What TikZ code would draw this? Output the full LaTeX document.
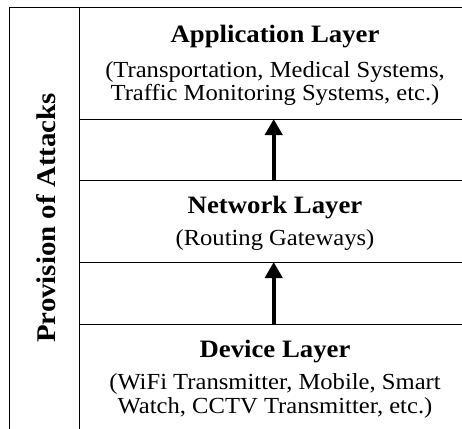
\documentclass[tikz,border=0pt]{standalone}
\usepackage{fontspec}
\setmainfont[FakeStretch=1.07]{Liberation Serif}
\usetikzlibrary{arrows.meta}
\tikzset{
  box/.style={draw, line width=1.4pt, anchor=north west, minimum width=394pt, inner sep=0pt},
  ttl/.style={font=\bfseries\fontsize{25}{29}\selectfont, anchor=base, inner sep=0pt},
  sub/.style={font=\fontsize{23}{25}\selectfont, anchor=base, inner sep=0pt},
  uparrow/.style={line width=4pt, -{Triangle[width=17pt,length=16pt]}}
}
\begin{document}
\begin{tikzpicture}[x=1pt,y=-1pt]
\def \cx{275};
\useasboundingbox (0,0) rectangle (462,428);
\clip (0,0) rectangle (462,428);
\node[box, minimum width=70pt, minimum height=440pt] (side) at (9,7) {};
\node[box, minimum height=112pt] (app) at (79,7) {};
\node[box, minimum height=61pt] (appgap) at (79,119) {};
\node[box, minimum height=82pt] (net) at (79,180) {};
\node[box, minimum height=62pt] (netgap) at (79,262) {};
\node[box, minimum height=120pt] (dev) at (79,324) {};
\node[ttl] (apptitle) at (\cx,42) {Application Layer};
\node[sub] (appline1) at (\cx,77) {(Transportation, Medical Systems,};
\node[sub] (appline2) at (\cx,100) {Traffic Monitoring Systems, etc.)};
\node[ttl] (nettitle) at (\cx,213) {Network Layer};
\node[sub] (netline) at (\cx,245) {(Routing Gateways)};
\node[ttl] (devtitle) at (\cx,357) {Device Layer};
\node[sub] (devline1) at (\cx,389) {(WiFi Transmitter, Mobile, Smart};
\node[sub] (devline2) at (\cx,413) {Watch, CCTV Transmitter, etc.)};
\node[ttl, rotate=90, font=\bfseries\fontsize{27}{31}\selectfont] (sidelabel) at (55,218) {Provision of Attacks};
\draw[uparrow] ([xshift=-3pt]appgap.south) -- ([xshift=-3pt]appgap.north);
\draw[uparrow] ([xshift=-3pt]netgap.south) -- ([xshift=-3pt]netgap.north);
\end{tikzpicture}
\end{document}
